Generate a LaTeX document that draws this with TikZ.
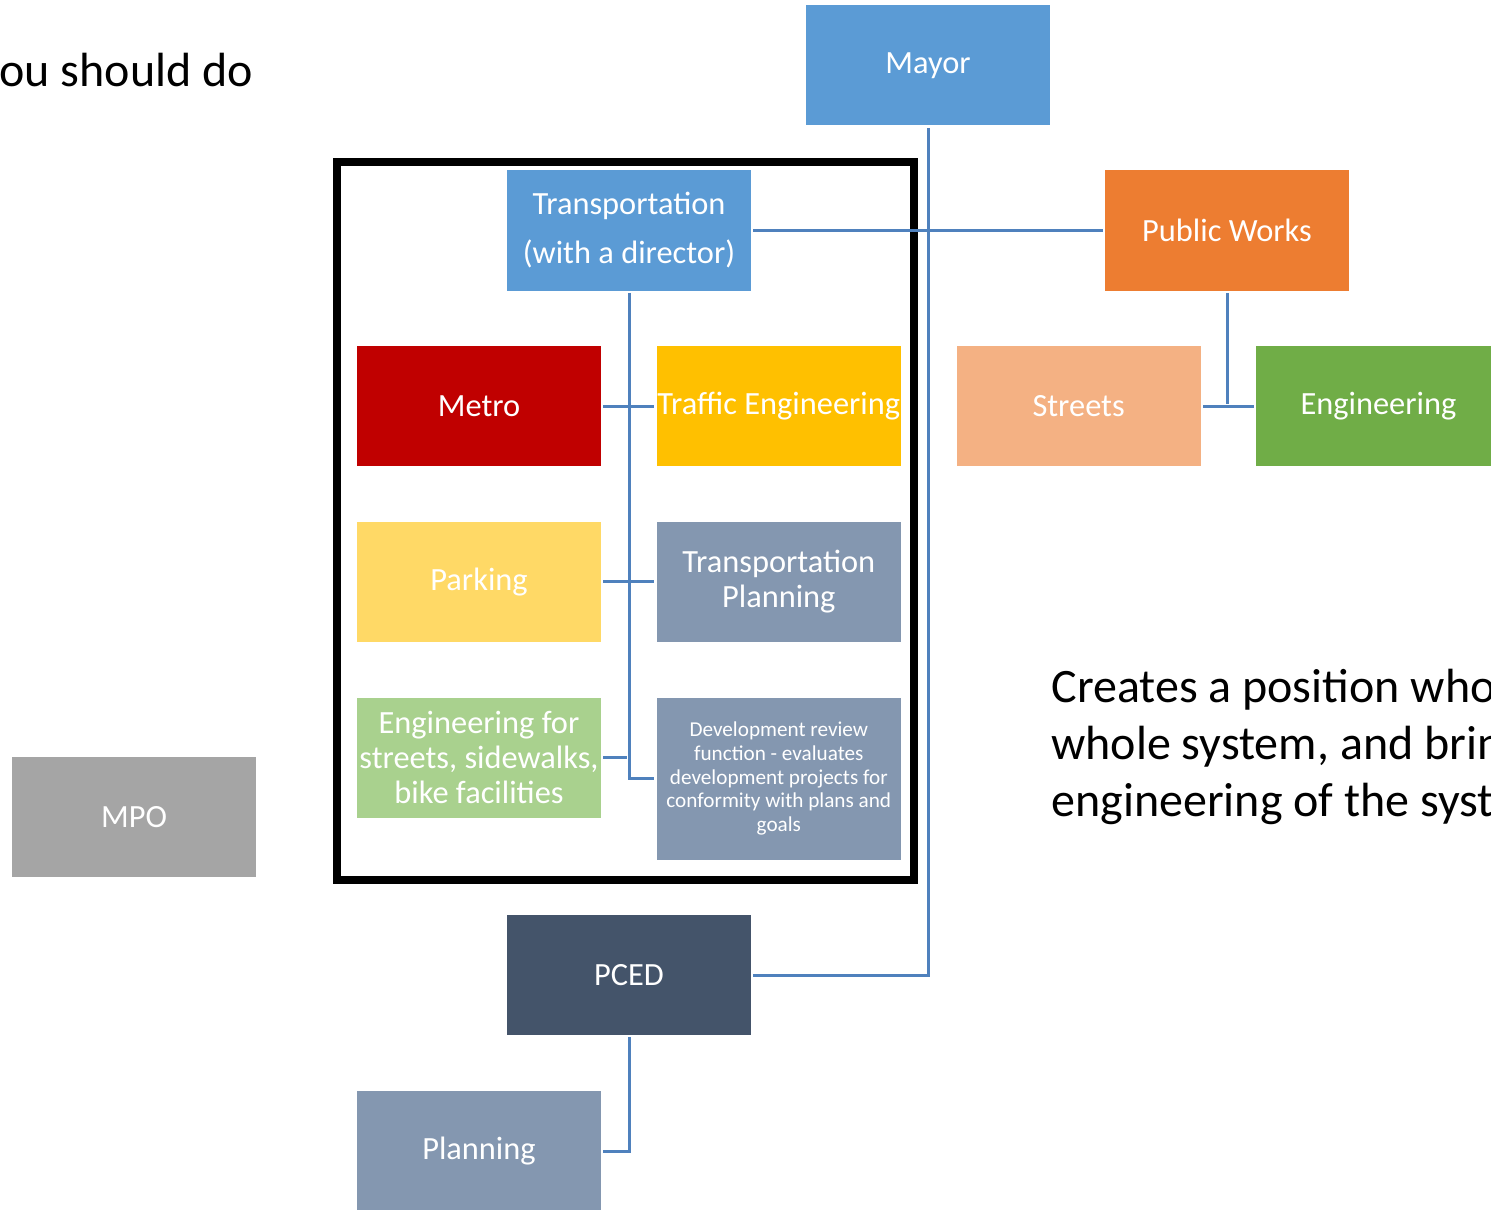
\documentclass[tikz,border=0pt]{standalone}
\usepackage{fontspec}
\setmainfont{Carlito}
\usetikzlibrary{positioning}
\definecolor{cblue}{HTML}{5B9BD5}
\definecolor{corange}{HTML}{ED7D31}
\definecolor{cmetro}{HTML}{C00000}
\definecolor{ctraffic}{HTML}{FFC000}
\definecolor{cstreets}{HTML}{F4B183}
\definecolor{ceng}{HTML}{70AD47}
\definecolor{cparking}{HTML}{FFD966}
\definecolor{cslate}{HTML}{8497B0}
\definecolor{cgreen}{HTML}{A9D18E}
\definecolor{cmpo}{HTML}{A5A5A5}
\definecolor{cpced}{HTML}{44546A}
\definecolor{clink}{HTML}{4F81BD}
\tikzset{unit/.style={rectangle,inner sep=0pt,minimum width=122pt,minimum height=60pt,text=white,align=center,font=\fontsize{16.2}{17.5}\selectfont}}
\tikzset{small/.style={unit,font=\fontsize{10.6}{11.8}\selectfont}}
\tikzset{link/.style={draw=clink,line width=1.5pt,shorten <=1pt,shorten >=1pt}}
\tikzset{frame/.style={draw=black,line width=4pt}}
\tikzset{note/.style={inner sep=0pt,anchor=base west,font=\fontsize{24}{28.5}\selectfont}}

\begin{document}
\begin{tikzpicture}[x=0.5pt,y=-0.5pt]
    \useasboundingbox (0,0) rectangle (1491,1209);
    \node[unit,fill=cblue] (mayor) at (928,65.5) {Mayor};
    \node[unit,fill=cblue,font=\fontsize{16.2}{24.5}\selectfont] (transp) at (629,230.5) {Transportation\\(with a director)};
    \node[unit,fill=corange] (pworks) at (1227,230.5) {Public Works};

    \node[unit,fill=cmetro] (metro) at (479,406) {Metro};
    \node[unit,fill=ctraffic,right=27.5pt of metro] (traffic) {Traffic Engineering};
    \node[unit,fill=cstreets,right=27.5pt of traffic] (streets) {Streets};
    \node[unit,fill=ceng,right=27.5pt of streets] (eng) {Engineering};
    \node[unit,fill=cparking,below=27.5pt of metro] (parking) {Parking};
    \node[unit,fill=cslate,right=27.5pt of parking] (tplan) {Transportation\\Planning};
    \node[unit,fill=cgreen,below=27.5pt of parking] (engfor) {Engineering for\\streets, sidewalks,\\bike facilities};
    \node[small,fill=cslate,below=27.5pt of tplan,minimum height=81pt] (devrev) {Development review\\function - evaluates\\development projects for\\conformity with plans and\\goals};

    \node[unit,fill=cmpo] (mpo) at (134,817) {MPO};
    \node[unit,fill=cpced] (pced) at (629,975) {PCED};
    \node[unit,fill=cslate] (planning) at (479,1151) {Planning};

    \draw[frame] (337,162) rectangle (914,880);

    \node[note] (title) at (-1,87) {ou should do};
    \node[note] (remarka) at (1051,702) {Creates a position who};
    \node[note] (remarkb) at (1051,759) {whole system, and brin};
    \node[note] (remarkc) at (1051,816) {engineering of the syst};

        \path[link] (mayor.south) -- (mayor.south |- pced.east) -- (pced.east);
        \path[link] (transp.east) -- (pworks.west);
        \path[link] (transp.south) |- (devrev.west);
        \path[link] (metro.east) -- (traffic.west);
        \path[link] (parking.east) -- (tplan.west);
        \path[link] (engfor.east) -- (engfor.east -| transp.south);
        \path[link] (pworks.south) -- (pworks.south |- streets.east);
        \path[link] (streets.east) -- (eng.west);
        \path[link] (pced.south) |- (planning.east);
\end{tikzpicture}
\end{document}
